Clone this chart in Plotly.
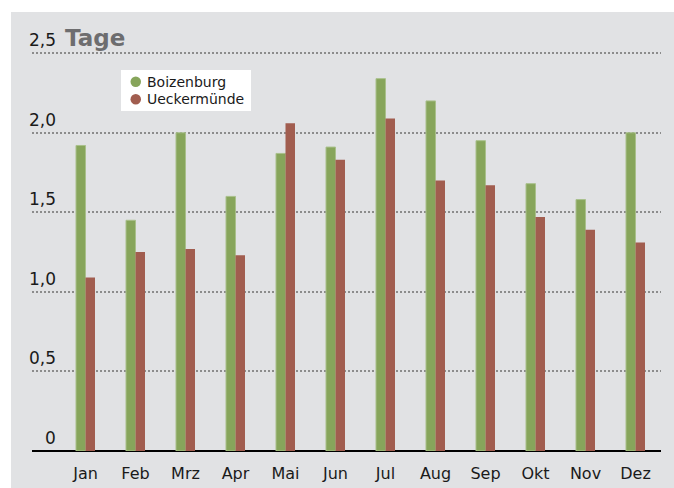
import plotly.graph_objects as go

# Monthly values (days)
months = ["Jan", "Feb", "Mrz", "Apr", "Mai", "Jun", "Jul", "Aug", "Sep", "Okt", "Nov", "Dez"]
boizenburg = [1.92, 1.45, 2.00, 1.60, 1.87, 1.91, 2.34, 2.20, 1.95, 1.68, 1.58, 2.00]
ueckermuende = [1.09, 1.25, 1.27, 1.23, 2.06, 1.83, 2.09, 1.70, 1.67, 1.47, 1.39, 1.31]
y_ticks = [0, 0.5, 1.0, 1.5, 2.0, 2.5]
y_tick_text = ["0", "0,5", "1,0", "1,5", "2,0", "2,5"]
series_names = ["Boizenburg", "Ueckermünde"]

GREEN = "#87a55b"
RED = "#a15d4f"
PANEL = "#e1e2e4"
FONT = "DejaVu Sans"

W, H = 674, 488
M_L, M_R, M_T, M_B = 32, 13, 50, 37
PW, PH = W - M_L - M_R, H - M_T - M_B


def px_x(p):
    return (p - M_L) / PW


def px_y(p):
    return (H - M_B - p) / PH


x_idx = list(range(len(months)))

fig = go.Figure()
fig.add_trace(go.Bar(
    x=x_idx, y=boizenburg, name=series_names[0],
    marker=dict(color=GREEN, line=dict(color="#a9c08b", width=1)),
    showlegend=False,
))
fig.add_trace(go.Bar(
    x=x_idx, y=ueckermuende, name=series_names[1],
    marker=dict(color=RED, line=dict(width=0)),
    showlegend=False,
))

shapes = [
    # grey panel behind the chart
    dict(type="rect", xref="paper", yref="paper",
         x0=px_x(11), x1=px_x(W + 2), y0=px_y(H + 2), y1=px_y(12),
         fillcolor=PANEL, line=dict(width=0), layer="below"),
    # legend box
    dict(type="rect", xref="paper", yref="paper",
         x0=px_x(121), x1=px_x(251), y0=px_y(111), y1=px_y(70),
         fillcolor="white", line=dict(width=0), layer="above"),
]

annotations = []
# y tick labels sit above their gridlines
for v, t in zip(y_ticks, y_tick_text):
    annotations.append(dict(
        x=px_x(57.5), xref="paper", y=v, yref="y", text=t, showarrow=False,
        xanchor="right", yanchor="bottom", yshift=1,
        font=dict(family=FONT, size=17, color="#1a1a1a"),
    ))

# title
annotations.append(dict(
    x=px_x(63), xref="paper", y=px_y(38), yref="paper", text="<b>Tage</b>",
    showarrow=False, xanchor="left", yanchor="middle",
    font=dict(family=FONT, size=23, color="#6d6d6f"),
))

# legend entries
for i, (name, col) in enumerate(zip(series_names, [GREEN, RED])):
    cy = 81.7 + i * 17.5
    shapes.append(dict(
        type="circle", xref="paper", yref="paper",
        x0=px_x(130.5), x1=px_x(141), y0=px_y(cy + 5.2), y1=px_y(cy - 5.2),
        fillcolor=col, line=dict(width=0), layer="above",
    ))
    annotations.append(dict(
        x=px_x(145), xref="paper", y=px_y(cy), yref="paper", text=name,
        showarrow=False, xanchor="left", yanchor="middle",
        font=dict(family=FONT, size=14, color="#1a1a1a"),
    ))

fig.update_layout(
    width=W, height=H,
    margin=dict(l=M_L, r=M_R, t=M_T, b=M_B, pad=0, autoexpand=False),
    paper_bgcolor="white",
    plot_bgcolor="rgba(0,0,0,0)",
    barmode="group",
    bargap=0.62,
    bargroupgap=0,
    showlegend=False,
    shapes=shapes,
    annotations=annotations,
    xaxis=dict(
        range=[-1.07, 11.51],
        tickmode="array", tickvals=x_idx, ticktext=months,
        tickfont=dict(family=FONT, size=16, color="#1a1a1a"),
        ticks="outside", ticklen=8, tickcolor="rgba(0,0,0,0)",
        showgrid=False, zeroline=False, showline=False,
        automargin=False, fixedrange=True,
    ),
    yaxis=dict(
        range=[0, 2.52],
        tickmode="array", tickvals=y_ticks,
        showticklabels=False,
        showgrid=True, gridcolor="#8c8c8c", gridwidth=2, griddash="2px,2px",
        zeroline=True, zerolinecolor="black", zerolinewidth=2,
        showline=False, automargin=False, fixedrange=True,
    ),
)

fig.write_html("out.html")
